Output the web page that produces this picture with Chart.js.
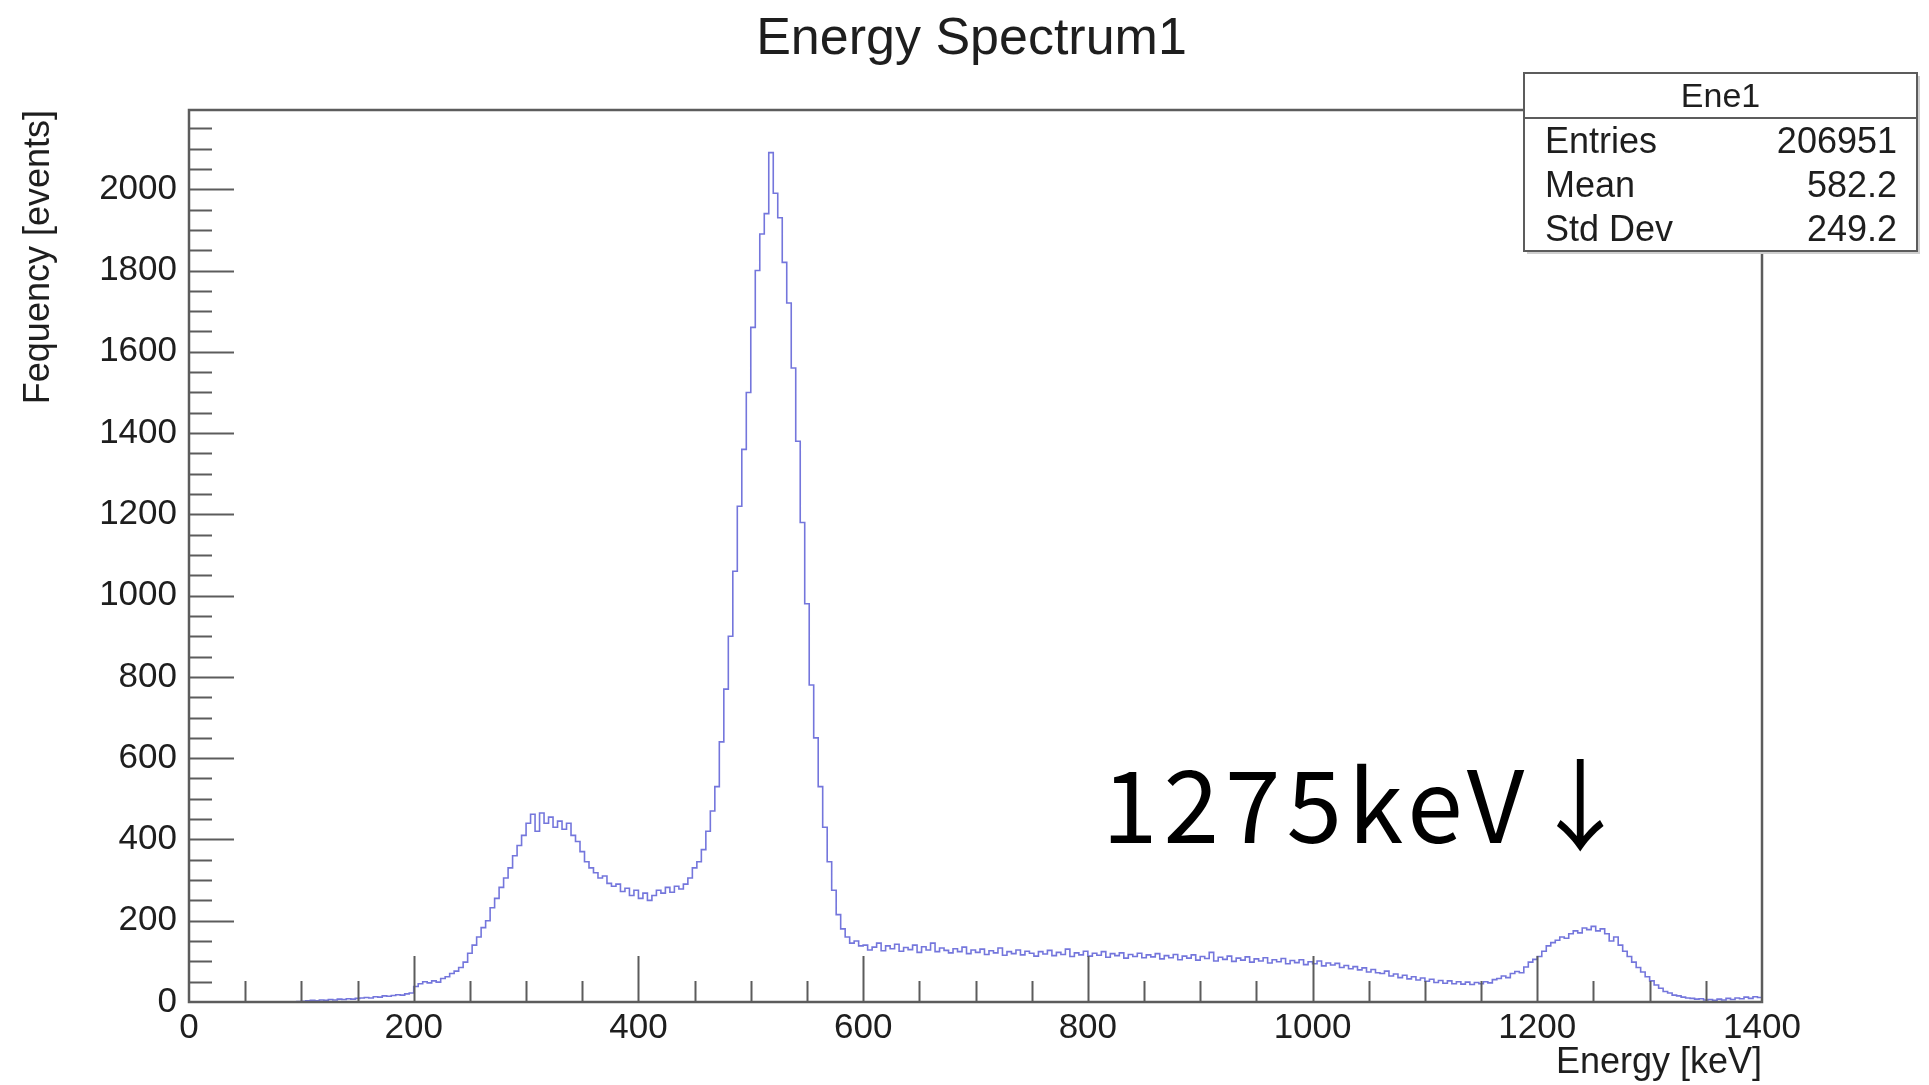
<!DOCTYPE html>
<html><head><meta charset="utf-8">
<script src="https://cdn.jsdelivr.net/npm/chart.js@4.4.1/dist/chart.umd.min.js"></script>
<style>html,body{margin:0;padding:0;background:#fff;overflow:hidden}canvas{display:block}</style>
</head><body>
<canvas id="c" width="1929" height="1085"></canvas>
<script>
// ---------- data ----------
const BIN_WIDTH = 4;            // keV per bin
const X_MIN = 0, X_MAX = 1400;  // keV
const Y_MIN = 0, Y_MAX = 2195;  // events

// counts per 4 keV bin, lower edges 0 .. 96
const counts_0_100 = [0,0,0,0,0,0,0,0,0,0,0,0,0,0,0,0,0,0,0,0,0,0,0,0,1];
// 100 .. 196
const counts_100_200 = [2,3,4,3,5,4,6,5,7,6,8,7,9, 10,11,10,13,12,15,14,16,18,17,20,22];
// 200 .. 436
const counts_200_440 = [38,45,50,47,52,49,58,62,70,76,
  85,98,120,140,160,183,200,232,255,282,
  305,330,360,385,410,440,462,420,465,440,
  455,430,445,425,440,410,395,370,345,330,
  318,305,310,292,285,290,272,280,262,275,
  255,268,250,262,275,268,282,270,285,278];
// 440 .. 596
const counts_440_600 = [290,305,330,345,375,420,470,530,640,770,
  900,1060,1220,1360,1500,1660,1800,1890,1940,2090,
  1990,1930,1820,1720,1560,1380,1180,980,780,650,
  530,430,345,275,215,180,160,145,150,138];
// 600 .. 1056
const counts_600_1060 = [140,128,135,145,126,138,131,142,125,134,
  129,140,122,136,128,145,124,133,127,121,
  131,124,135,119,128,122,130,117,126,121,
  133,115,124,119,128,116,125,120,113,124,
  118,127,114,122,117,130,112,121,116,125,
  113,120,115,124,110,119,114,121,108,117,
  112,120,109,116,111,119,106,114,109,117,
  104,113,108,116,103,112,107,122,101,110,
  105,113,100,108,103,111,98,106,101,109,
  96,104,99,107,94,102,97,104,92,99,
  94,101,89,96,91,95,85,90,82,87,
  79,84,74,80,72];
// 1060 .. 1396
const counts_1060_1400 = [70,76,64,69,60,66,57,62,54,59,
  51,56,48,53,46,52,45,50,44,49,
  43,48,45,50,47,55,58,64,60,70,
  75,72,86,98,105,112,125,138,146,152,
  160,157,168,175,170,182,178,186,175,180,
  168,150,160,140,125,112,98,85,74,62,
  52,42,34,26,22,17,15,12,10,9,
  7,8,5,6,4,7,5,9,6,10,
  8,12,9,13,11];

const counts = [].concat(counts_0_100, counts_100_200, counts_200_440,
                         counts_440_600, counts_600_1060, counts_1060_1400);
const binEdges = counts.map((_, i) => X_MIN + i * BIN_WIDTH);

const xTickLabels = [0, 200, 400, 600, 800, 1000, 1200, 1400];
const yTickLabels = [0, 200, 400, 600, 800, 1000, 1200, 1400, 1600, 1800, 2000];
const MINOR_STEP = 50;

const titleText = 'Energy Spectrum1';
const xTitle = 'Energy [keV]';
const yTitle = 'Fequency [events]';
const statsName = 'Ene1';
const statsLabels = ['Entries', 'Mean', 'Std Dev'];
const statsValues = ['206951', '582.2', '249.2'];
const noteText = '1275keV\u2193';

// ---------- rendering ----------
const FONT = '"Liberation Sans", Arial, Helvetica, sans-serif';
const AXIS_COLOR = '#5c5c5c';
const LINE_COLOR = 'rgba(92,94,214,0.85)';

const points = binEdges.map((x, i) => ({x, y: counts[i]}));
points.push({x: X_MAX, y: counts[counts.length - 1]});

const rootFrame = {
  id: 'rootFrame',
  afterDatasetsDraw(chart) {
    const {ctx, chartArea: a, scales: {x, y}} = chart;
    ctx.save();
    ctx.strokeStyle = AXIS_COLOR;
    ctx.lineWidth = 2;
    ctx.beginPath();
    for (let v = X_MIN + MINOR_STEP; v < X_MAX; v += MINOR_STEP) {
      const px = Math.round(x.getPixelForValue(v)) + 0.5;
      const len = xTickLabels.includes(v) ? 46 : 21;
      ctx.moveTo(px, a.bottom); ctx.lineTo(px, a.bottom - len);
    }
    for (let v = Y_MIN + MINOR_STEP; v < Y_MAX; v += MINOR_STEP) {
      const py = Math.round(y.getPixelForValue(v)) + 0.5;
      const len = yTickLabels.includes(v) ? 45 : 23;
      ctx.moveTo(a.left, py); ctx.lineTo(a.left + len, py);
    }
    ctx.stroke();
    ctx.lineWidth = 2.5;
    ctx.strokeRect(a.left, a.top, a.right - a.left, a.bottom - a.top);
    ctx.restore();
  },
  afterDraw(chart) {
    const {ctx} = chart;
    ctx.save();
    // stats box
    const bx = 1524, by = 73, bw = 393, bh = 178;
    ctx.fillStyle = '#cfcfcf';
    ctx.fillRect(bx + 3, by + 3, bw, bh);
    ctx.fillStyle = '#ffffff';
    ctx.fillRect(bx, by, bw, bh);
    ctx.strokeStyle = AXIS_COLOR;
    ctx.lineWidth = 2;
    ctx.strokeRect(bx, by, bw, bh);
    ctx.beginPath(); ctx.moveTo(bx, 118); ctx.lineTo(bx + bw, 118); ctx.stroke();
    ctx.fillStyle = '#1e1e1e';
    ctx.font = '34px ' + FONT;
    ctx.textBaseline = 'middle';
    ctx.textAlign = 'center';
    ctx.fillText(statsName, bx + bw / 2, 98);
    ctx.font = '36px ' + FONT;
    const rowsY = [143, 187, 231];
    statsLabels.forEach((lab, i) => {
      ctx.textAlign = 'left'; ctx.fillText(lab, 1545, rowsY[i]);
      ctx.textAlign = 'right'; ctx.fillText(statsValues[i], 1897, rowsY[i]);
    });
    // annotation
    ctx.fillStyle = '#000';
    ctx.font = '100px "Noto Sans CJK JP"';
    ctx.letterSpacing = '6px';
    ctx.textAlign = 'left';
    ctx.textBaseline = 'alphabetic';
    ctx.fillText(noteText, 1102, 843);
    ctx.restore();
  }
};

const plainTick = v => String(v);

new Chart(document.getElementById('c'), {
  type: 'line',
  data: {
    datasets: [{
      data: points,
      stepped: true,
      borderColor: LINE_COLOR,
      borderWidth: 1.6,
      pointRadius: 0,
      fill: false,
      tension: 0
    }]
  },
  options: {
    responsive: false,
    animation: false,
    devicePixelRatio: 1,
    layout: {padding: {left: 14, right: 0, top: 0, bottom: 0}},
    plugins: {
      legend: {display: false},
      tooltip: {enabled: false},
      title: {
        display: true, text: titleText, color: '#1e1e1e',
        font: {family: FONT, size: 52, weight: 'normal', lineHeight: 1.2},
        padding: {top: 8, bottom: 39.6}
      }
    },
    scales: {
      x: {
        type: 'linear', min: X_MIN, max: X_MAX, position: 'bottom',
        afterBuildTicks: s => { s.ticks = xTickLabels.map(v => ({value: v})); },
        afterFit: s => { s.height = 83; },
        grid: {display: false, drawTicks: false},
        border: {display: false},
        ticks: {autoSkip: false, maxRotation: 0, padding: 5, color: '#1e1e1e',
                callback: plainTick, font: {family: FONT, size: 35}},
        title: {display: true, text: xTitle, align: 'end', color: '#1e1e1e',
                font: {family: FONT, size: 36, lineHeight: 1.2}, padding: {top: 0, bottom: 0}}
      },
      y: {
        type: 'linear', min: Y_MIN, max: Y_MAX, position: 'left',
        afterBuildTicks: s => { s.ticks = yTickLabels.map(v => ({value: v})); },
        afterFit: s => { s.width = 175; },
        grid: {display: false, drawTicks: false},
        border: {display: false},
        ticks: {autoSkip: false, padding: 12, color: '#1e1e1e',
                callback: plainTick, font: {family: FONT, size: 35}},
        title: {display: true, text: yTitle, align: 'end', color: '#1e1e1e',
                font: {family: FONT, size: 36, lineHeight: 1.2}, padding: {top: 3.4, bottom: 0}}
      },
      yRight: {
        type: 'linear', min: Y_MIN, max: Y_MAX, position: 'right', display: true,
        afterFit: s => { s.width = 167; },
        grid: {display: false, drawTicks: false},
        border: {display: false},
        ticks: {display: false}
      }
    }
  },
  plugins: [rootFrame]
});
</script>
</body></html>
